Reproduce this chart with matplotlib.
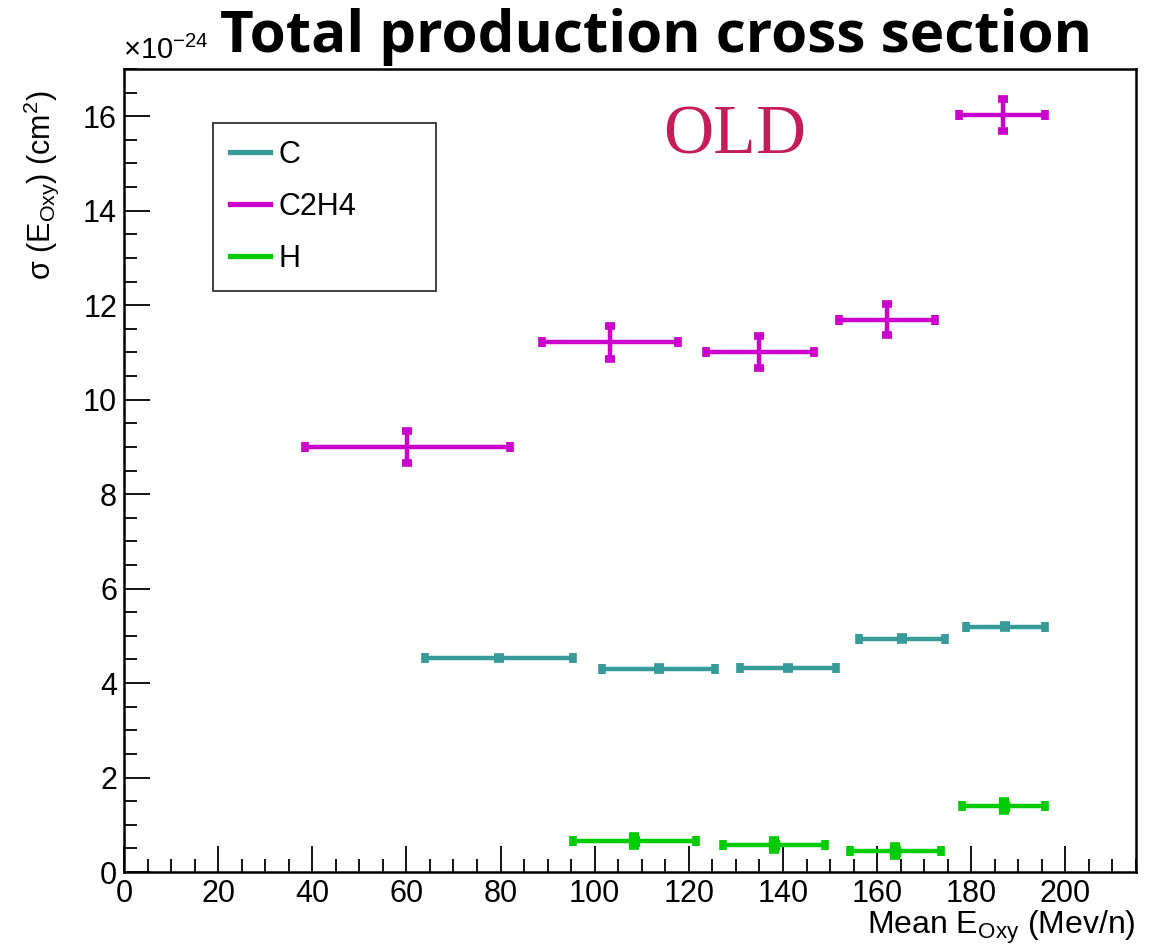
import numpy as np
import matplotlib.pyplot as plt
from matplotlib.lines import Line2D
from matplotlib.ticker import MultipleLocator

plt.rcParams['font.family'] = ['Liberation Sans', 'DejaVu Sans']
plt.rcParams['mathtext.fontset'] = 'custom'
plt.rcParams['mathtext.rm'] = 'Liberation Sans'
plt.rcParams['mathtext.it'] = 'Liberation Sans'

# cross sections in units of 1e-24 cm^2, energy bins in MeV/n
c_x = [79.6, 113.6, 141.1, 165.3, 187.2]
c_xlo = [64.0, 101.5, 130.9, 156.2, 178.9]
c_xhi = [95.3, 125.5, 151.3, 174.5, 195.7]
c_y = [4.53, 4.30, 4.32, 4.94, 5.19]
c_yerr = [0.03, 0.03, 0.03, 0.03, 0.03]

c2h4_x = [60.2, 103.2, 134.9, 162.1, 186.8]
c2h4_xlo = [38.5, 88.7, 123.6, 151.9, 177.4]
c2h4_xhi = [82.1, 117.7, 146.6, 172.3, 195.7]
c2h4_y = [9.00, 11.21, 11.00, 11.69, 16.02]
c2h4_yerr = [0.34, 0.35, 0.34, 0.33, 0.34]

h_x = [108.3, 138.1, 163.8, 187.0]
h_xlo = [95.3, 127.2, 154.3, 178.1]
h_xhi = [121.5, 148.9, 173.6, 195.7]
h_y = [0.66, 0.57, 0.44, 1.40]
h_yerr = [0.1, 0.1, 0.1, 0.1]

series = [
    ('C', '#379c99', 5, c_x, c_xlo, c_xhi, c_y, c_yerr),
    ('C2H4', '#cc00cc', 0, c2h4_x, c2h4_xlo, c2h4_xhi, c2h4_y, c2h4_yerr),
    ('H', '#00cc00', 7.5, h_x, h_xlo, h_xhi, h_y, h_yerr),
]

fig = plt.figure(figsize=(11.6, 9.51), dpi=100)
ax = fig.add_axes([124 / 1160, 79 / 951, 1012 / 1160, 803 / 951])

for name, col, ms, x, lo, hi, y, ye in series:
    x = np.array(x)
    xerr = [x - np.array(lo), np.array(hi) - x]
    ax.errorbar(x, y, xerr=xerr, yerr=ye, fmt='s' if ms else 'none',
                ms=ms, color=col, ecolor=col, mec=col,
                elinewidth=3.2, capsize=3.5, capthick=5.5)

ax.set_xlim(0, 215)
ax.set_ylim(0, 17)
ax.xaxis.set_major_locator(MultipleLocator(20))
ax.xaxis.set_minor_locator(MultipleLocator(5))
ax.yaxis.set_major_locator(MultipleLocator(2))
ax.yaxis.set_minor_locator(MultipleLocator(0.5))
ax.tick_params(which='both', direction='in', top=False, right=False,
               labelsize=22, width=1.3, pad=5)
ax.tick_params(which='major', length=19)
ax.tick_params(which='minor', length=9.5)
for s in ax.spines.values():
    s.set_linewidth(1.8)

ax.set_xlabel(r'Mean E$_{\mathregular{Oxy}}$ (Mev/n)', fontsize=23, loc='right',
              labelpad=0)
ax.set_ylabel(r'σ (E$_{\mathregular{Oxy}}$) (cm$^{\mathregular{2}}$)', fontsize=22)
ax.yaxis.set_label_coords(-0.062, 0.855)

fig.text(123 / 1160, 1 - 50 / 951, r'×10$^{\mathregular{-24}}$', fontsize=21,
         ha='left', va='center')
fig.text(656 / 1160, 1 - 37 / 951, 'Total production cross section',
         fontsize=42, fontweight='bold', family='Open Sans',
         ha='center', va='center')
ax.text(0.603, 0.955, 'OLD', transform=ax.transAxes, color='#c41d5a',
        fontsize=50, family='Liberation Serif', ha='center', va='top')

handles = [Line2D([], [], color=s[1], lw=3.8) for s in series]
labels = [s[0] for s in series]
leg = ax.legend(handles, labels, loc='upper left', mode='expand',
                bbox_to_anchor=(0.088, 0.7347, 0.2204, 0.198), fontsize=22,
                frameon=True, fancybox=False, edgecolor='black',
                handlelength=1.3, handletextpad=0.3, labelspacing=0.72,
                borderpad=0.55, borderaxespad=0)
leg._legend_box.sep = 0
leg.get_frame().set_linewidth(1.3)

fig.savefig('out.png', dpi=100)
